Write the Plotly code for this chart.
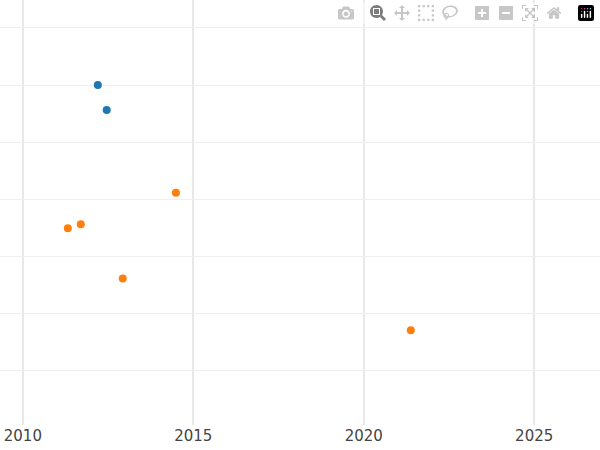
import plotly.graph_objects as go

blue_x = [2012.2, 2012.46]
blue_y = [50.0, 45.6]
orange_x = [2011.32, 2011.70, 2014.49, 2012.93, 2021.38]
orange_y = [24.9, 25.6, 31.1, 16.1, 7.0]

fig = go.Figure()
fig.add_trace(go.Scatter(x=blue_x, y=blue_y, mode="markers",
                         marker=dict(color="#1f77b4", size=8)))
fig.add_trace(go.Scatter(x=orange_x, y=orange_y, mode="markers",
                         marker=dict(color="#ff7f0e", size=8)))
fig.update_layout(
    width=600, height=450, showlegend=False,
    margin=dict(l=0, r=0, t=0, b=25, autoexpand=False),
    plot_bgcolor="white", paper_bgcolor="white",
    font=dict(family="DejaVu Sans", size=15, color="#444"),
)
fig.update_xaxes(range=[2009.33, 2026.93], tickvals=[2010, 2015, 2020, 2025],
                 showgrid=True, gridcolor="#e8e8e8", gridwidth=1.5, zeroline=False,
                 showline=False, automargin=False)
fig.update_yaxes(range=[-9.6, 64.9], dtick=10, showticklabels=False,
                 showgrid=True, gridcolor="#eeeeee", zeroline=False, automargin=False)
fig.write_html("out.html",
               post_script="document.body.style.margin='0';document.body.style.overflow='hidden';")
